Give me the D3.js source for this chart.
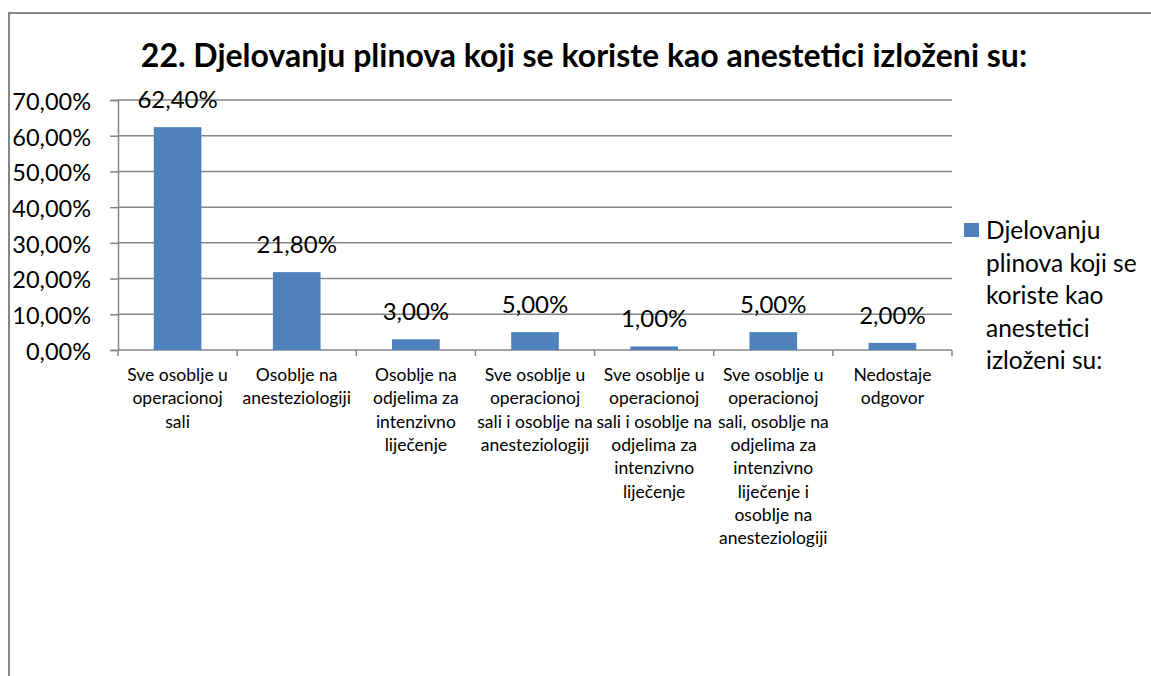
<!DOCTYPE html>
<html>
<head>
<meta charset="utf-8">
<script src="https://cdn.jsdelivr.net/npm/d3@7"></script>
<style>
  body { margin: 0; background: #fff; }
  svg { display: block; font-family: Lato, "Open Sans", sans-serif; }
</style>
</head>
<body>
<svg id="chart" width="1151" height="676"></svg>
<script>
// chart data
const title = "22. Djelovanju plinova koji se koriste kao anestetici izloženi su:";
const seriesName = ["Djelovanju", "plinova koji se", "koriste kao", "anestetici", "izloženi su:"];
const categories = [
  ["Sve osoblje u", "operacionoj", "sali"],
  ["Osoblje na", "anesteziologiji"],
  ["Osoblje na", "odjelima za", "intenzivno", "liječenje"],
  ["Sve osoblje u", "operacionoj", "sali i osoblje na", "anesteziologiji"],
  ["Sve osoblje u", "operacionoj", "sali i osoblje na", "odjelima za", "intenzivno", "liječenje"],
  ["Sve osoblje u", "operacionoj", "sali, osoblje na", "odjelima za", "intenzivno", "liječenje i", "osoblje na", "anesteziologiji"],
  ["Nedostaje", "odgovor"]
];
const values = [62.4, 21.8, 3.0, 5.0, 1.0, 5.0, 2.0];
const yTicks = [0, 10, 20, 30, 40, 50, 60, 70];

const svg = d3.select("#chart");
const margin = {top: 100, right: 199, bottom: 326, left: 118};
const width = 1151, height = 676;
const barColor = "#4f81bd";
const lineColor = "#868686";
const fmt = v => d3.format(".2f")(v).replace(".", ",") + "%";

// outer border (only top and left visible in the crop)
svg.append("path")
  .attr("d", `M9,${height} V13 H${width}`)
  .attr("fill", "none")
  .attr("stroke", lineColor)
  .attr("stroke-width", 2);

const idx = categories.map((d, i) => i);
const xBand = d3.scaleBand().domain(idx)
  .range([margin.left, width - margin.right])
  .paddingInner(0.6).paddingOuter(0.3);
const xStep = d3.scaleBand().domain(idx)
  .range([margin.left, width - margin.right]);

const y = d3.scaleLinear().domain([0, 70])
  .range([height - margin.bottom, margin.top]);

// gridlines
svg.append("g")
  .selectAll("line")
  .data(yTicks)
  .join("line")
  .attr("x1", margin.left)
  .attr("x2", width - margin.right)
  .attr("y1", d => y(d))
  .attr("y2", d => y(d))
  .attr("stroke", lineColor)
  .attr("stroke-width", 1.5);

// y axis
svg.append("g")
  .attr("transform", `translate(${margin.left},0)`)
  .call(d3.axisLeft(y).tickValues(yTicks).tickSize(8).tickFormat(d => fmt(d)))
  .call(g => g.select(".domain").attr("stroke", lineColor).attr("stroke-width", 1.5))
  .call(g => g.selectAll(".tick line").attr("stroke", lineColor).attr("stroke-width", 1.5))
  .call(g => g.selectAll(".tick text")
    .attr("x", -27).attr("dy", "0.4em")
    .attr("font-size", 23.5).attr("fill", "#000")
    .attr("font-family", "Lato, sans-serif"));

// x axis ticks at category boundaries
const bounds = idx.map(i => xStep(i)).concat([width - margin.right]);
svg.append("g")
  .selectAll("line")
  .data(bounds)
  .join("line")
  .attr("x1", d => d).attr("x2", d => d)
  .attr("y1", y(0)).attr("y2", y(0) + 6)
  .attr("stroke", lineColor)
  .attr("stroke-width", 1.5);

// bars
svg.append("g")
  .selectAll("rect")
  .data(values)
  .join("rect")
  .attr("x", (d, i) => xBand(i))
  .attr("width", xBand.bandwidth())
  .attr("y", d => y(d))
  .attr("height", d => y(0) - y(d))
  .attr("fill", barColor);

// data labels
svg.append("g")
  .selectAll("text")
  .data(values)
  .join("text")
  .attr("x", (d, i) => xBand(i) + xBand.bandwidth() / 2)
  .attr("y", d => y(d) - 19)
  .attr("text-anchor", "middle")
  .attr("font-size", 24)
  .text(d => fmt(d));

// category labels
const catG = svg.append("g")
  .selectAll("text")
  .data(categories)
  .join("text")
  .attr("text-anchor", "middle")
  .attr("font-size", 17.5)
  .attr("transform", (d, i) => `translate(${xStep(i) + xStep.bandwidth() / 2},${y(0) + 31})`);
catG.selectAll("tspan")
  .data(d => d)
  .join("tspan")
  .attr("x", 0)
  .attr("y", (d, i) => i * 23.3)
  .text(d => d);

// legend
const leg = svg.append("g").attr("transform", "translate(964,223)");
leg.append("rect").attr("width", 15).attr("height", 14).attr("fill", barColor);
leg.append("text")
  .attr("font-size", 24.5)
  .selectAll("tspan")
  .data(seriesName)
  .join("tspan")
  .attr("x", 22)
  .attr("y", (d, i) => 16 + i * 32.6)
  .text(d => d);

// title
svg.append("text")
  .attr("x", 584)
  .attr("y", 67)
  .attr("text-anchor", "middle")
  .attr("font-size", 32)
  .attr("font-weight", "bold")
  .text(title);
</script>
</body>
</html>
